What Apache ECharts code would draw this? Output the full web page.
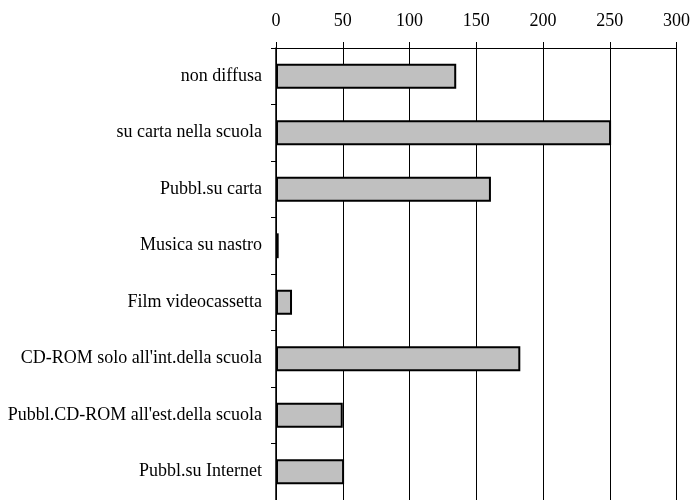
<!DOCTYPE html>
<html>
<head>
<meta charset="utf-8">
<script src="https://cdn.jsdelivr.net/npm/echarts@6/dist/echarts.min.js"></script>
<style>
  html, body { margin: 0; padding: 0; background: #fff; }
  #chart { width: 693px; height: 500px; }
</style>
</head>
<body>
<div id="chart"></div>
<script>
// categories top to bottom
var categories = [
  'non diffusa',
  'su carta nella scuola',
  'Pubbl.su carta',
  'Musica su nastro',
  'Film videocassetta',
  "CD-ROM solo all'int.della scuola",
  "Pubbl.CD-ROM all'est.della scuola",
  'Pubbl.su Internet'
];
var values = [135, 251, 161, 2, 12, 183, 50, 51];
var xTicks = [0, 50, 100, 150, 200, 250, 300];

var font = 'Liberation Serif';
var chart = echarts.init(document.getElementById('chart'));

chart.setOption({
  animation: false,
  grid: { left: 276, right: 14, top: 48, bottom: -2 },
  xAxis: {
    type: 'value',
    position: 'top',
    min: xTicks[0],
    max: xTicks[xTicks.length - 1],
    interval: 50,
    axisLine: { show: true, lineStyle: { color: '#000', width: 1 } },
    axisTick: { show: true, length: 6, lineStyle: { color: '#000' } },
    axisLabel: { color: '#000', fontFamily: font, fontSize: 18, margin: 18 },
    splitLine: { show: true, lineStyle: { color: '#000', width: 1 } }
  },
  yAxis: {
    type: 'category',
    data: categories,
    inverse: true,
    axisLine: { show: true, lineStyle: { color: '#000', width: 1.5 } },
    axisTick: { show: true, length: 5, lineStyle: { color: '#000' } },
    axisLabel: { color: '#000', fontFamily: font, fontSize: 18, margin: 14 }
  },
  series: [{
    type: 'bar',
    data: values,
    barWidth: '44%',
    itemStyle: { color: '#c0c0c0', borderColor: '#000', borderWidth: 2 }
  }]
});
</script>
</body>
</html>
